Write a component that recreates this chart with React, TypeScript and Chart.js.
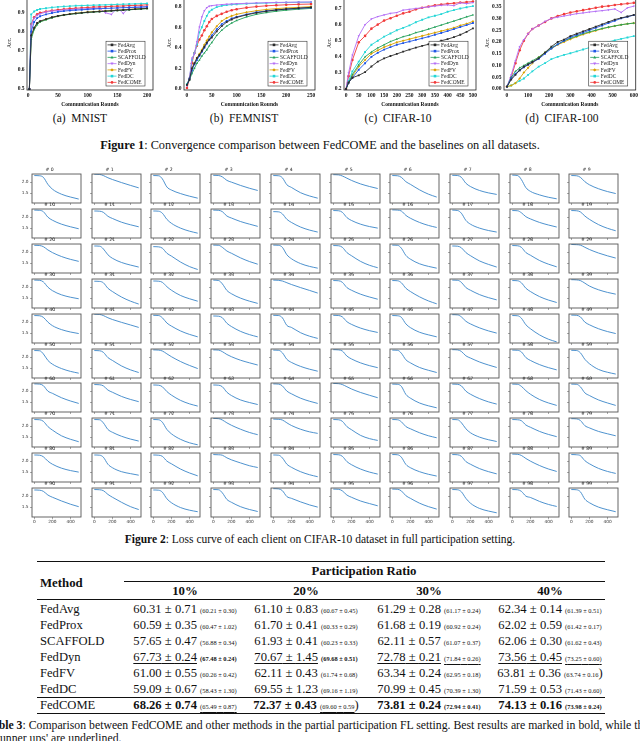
import React, { useEffect, useRef } from "react";
import { Chart, registerables } from "chart.js";
Chart.register(...registerables);

const SERIF = '"Liberation Serif", "Times New Roman", serif';
const SANS = '"DejaVu Sans", sans-serif';

// ---------------- Figure 1 data ----------------
const METHOD_NAMES = ["FedAvg", "FedProx", "SCAFFOLD", "FedDyn", "FedFV", "FedDC", "FedCOME"];
const METHOD_COLORS = ["#2b2b2b", "#1f55e6", "#22a05a", "#b36ef5", "#d8a200", "#22d6d6", "#f23a3a"];
const METHOD_MARKERS = ["rect", "rect", "triangle", "triangle", "rectRot", "rect", "circle"];
const METHOD_MARKER_ROT = [0, 0, 0, 180, 0, 0, 0];

const MNIST_ROUNDS = [2, 5, 10, 15, 20, 30, 40, 50, 60, 70, 80, 90, 100, 110, 120, 130, 140, 150, 160, 170, 180, 190, 200];
const MNIST_ACC = [
  [0.5, 0.78, 0.82, 0.845, 0.855, 0.865, 0.875, 0.882, 0.887, 0.891, 0.895, 0.898, 0.901, 0.903, 0.905, 0.907, 0.909, 0.911, 0.913, 0.915, 0.917, 0.919, 0.921],
  [0.5, 0.8, 0.85, 0.87, 0.88, 0.89, 0.897, 0.903, 0.907, 0.91, 0.912, 0.914, 0.916, 0.918, 0.92, 0.921, 0.922, 0.924, 0.925, 0.926, 0.927, 0.928, 0.929],
  [0.5, 0.76, 0.81, 0.835, 0.85, 0.862, 0.872, 0.88, 0.886, 0.89, 0.894, 0.897, 0.9, 0.902, 0.904, 0.906, 0.908, 0.91, 0.912, 0.914, 0.916, 0.918, 0.92],
  [0.5, 0.83, 0.87, 0.885, 0.893, 0.902, 0.907, 0.91, 0.913, 0.915, 0.917, 0.918, 0.92, 0.921, 0.922, 0.898, 0.89, 0.925, 0.895, 0.926, 0.927, 0.929, 0.931],
  [0.5, 0.77, 0.815, 0.84, 0.852, 0.864, 0.874, 0.881, 0.887, 0.892, 0.896, 0.899, 0.902, 0.904, 0.906, 0.908, 0.91, 0.912, 0.914, 0.916, 0.918, 0.92, 0.922],
  [0.5, 0.89, 0.905, 0.913, 0.918, 0.922, 0.926, 0.929, 0.931, 0.933, 0.935, 0.936, 0.937, 0.938, 0.939, 0.94, 0.941, 0.942, 0.943, 0.944, 0.945, 0.946, 0.947],
  [0.5, 0.84, 0.875, 0.89, 0.898, 0.905, 0.91, 0.914, 0.917, 0.92, 0.922, 0.924, 0.926, 0.928, 0.929, 0.93, 0.932, 0.933, 0.934, 0.936, 0.937, 0.938, 0.94],
];

const FEMNIST_ROUNDS = [0, 5, 10, 15, 20, 25, 30, 35, 40, 45, 50, 60, 70, 80, 90, 100, 120, 140, 160, 180, 200, 225, 250];
const FEMNIST_ACC = [
  [0.04, 0.09, 0.2, 0.25, 0.3, 0.33, 0.37, 0.41, 0.45, 0.48, 0.5, 0.56, 0.61, 0.65, 0.675, 0.695, 0.72, 0.74, 0.755, 0.767, 0.776, 0.785, 0.793],
  [0.04, 0.1, 0.18, 0.24, 0.28, 0.32, 0.36, 0.4, 0.44, 0.48, 0.52, 0.58, 0.63, 0.66, 0.685, 0.7, 0.725, 0.745, 0.758, 0.768, 0.776, 0.783, 0.79],
  [0.04, 0.09, 0.15, 0.2, 0.25, 0.28, 0.32, 0.35, 0.38, 0.42, 0.45, 0.52, 0.57, 0.61, 0.64, 0.665, 0.7, 0.725, 0.742, 0.755, 0.765, 0.775, 0.783],
  [0.03, 0.1, 0.3, 0.34, 0.46, 0.6, 0.7, 0.76, 0.79, 0.805, 0.81, 0.815, 0.82, 0.823, 0.826, 0.828, 0.832, 0.835, 0.838, 0.84, 0.842, 0.844, 0.845],
  [0.04, 0.1, 0.2, 0.25, 0.3, 0.34, 0.38, 0.43, 0.47, 0.51, 0.55, 0.61, 0.66, 0.69, 0.71, 0.725, 0.745, 0.76, 0.772, 0.78, 0.787, 0.793, 0.8],
  [0.05, 0.1, 0.28, 0.35, 0.43, 0.55, 0.6, 0.66, 0.71, 0.75, 0.77, 0.795, 0.808, 0.815, 0.82, 0.823, 0.828, 0.832, 0.835, 0.838, 0.84, 0.842, 0.843],
  [0.01, 0.1, 0.25, 0.35, 0.42, 0.48, 0.52, 0.57, 0.61, 0.65, 0.68, 0.71, 0.73, 0.75, 0.765, 0.775, 0.79, 0.8, 0.808, 0.813, 0.818, 0.822, 0.825],
];

const CIFAR10_ROUNDS = [0, 10, 25, 50, 75, 100, 125, 150, 175, 200, 225, 250, 275, 300, 325, 350, 375, 400, 425, 450, 475, 500];
const CIFAR10_ACC = [
  [0.2, 0.24, 0.27, 0.285, 0.305, 0.34, 0.37, 0.39, 0.405, 0.418, 0.432, 0.445, 0.457, 0.468, 0.478, 0.488, 0.5, 0.51, 0.522, 0.537, 0.555, 0.577],
  [0.2, 0.24, 0.27, 0.32, 0.36, 0.4, 0.425, 0.445, 0.46, 0.475, 0.485, 0.495, 0.505, 0.515, 0.525, 0.537, 0.548, 0.56, 0.572, 0.585, 0.597, 0.61],
  [0.2, 0.24, 0.29, 0.35, 0.4, 0.43, 0.455, 0.475, 0.495, 0.51, 0.525, 0.535, 0.55, 0.56, 0.572, 0.585, 0.597, 0.61, 0.622, 0.635, 0.648, 0.66],
  [0.2, 0.3, 0.41, 0.53, 0.6, 0.635, 0.65, 0.66, 0.67, 0.675, 0.69, 0.695, 0.7, 0.705, 0.71, 0.715, 0.72, 0.722, 0.718, 0.735, 0.73, 0.737],
  [0.2, 0.24, 0.28, 0.34, 0.38, 0.42, 0.44, 0.46, 0.475, 0.49, 0.5, 0.51, 0.52, 0.53, 0.54, 0.55, 0.56, 0.57, 0.58, 0.595, 0.605, 0.62],
  [0.2, 0.25, 0.31, 0.37, 0.43, 0.475, 0.5, 0.525, 0.545, 0.565, 0.58, 0.595, 0.615, 0.63, 0.645, 0.655, 0.665, 0.68, 0.69, 0.7, 0.708, 0.715],
  [0.2, 0.28, 0.38, 0.49, 0.53, 0.575, 0.6, 0.625, 0.64, 0.655, 0.67, 0.68, 0.695, 0.705, 0.712, 0.72, 0.725, 0.73, 0.733, 0.737, 0.74, 0.743],
];

const CIFAR100_ROUNDS = [0, 20, 40, 60, 80, 100, 120, 150, 180, 210, 240, 270, 300, 330, 360, 390, 420, 450, 480, 510, 540, 570, 600];
const CIFAR100_ACC = [
  [0.01, 0.04, 0.06, 0.08, 0.095, 0.105, 0.115, 0.13, 0.155, 0.18, 0.2, 0.21, 0.225, 0.235, 0.245, 0.255, 0.265, 0.275, 0.285, 0.295, 0.302, 0.308, 0.315],
  [0.01, 0.045, 0.065, 0.08, 0.092, 0.103, 0.113, 0.128, 0.15, 0.172, 0.19, 0.205, 0.22, 0.23, 0.24, 0.25, 0.26, 0.27, 0.28, 0.29, 0.3, 0.307, 0.314],
  [0.01, 0.05, 0.075, 0.09, 0.1, 0.11, 0.12, 0.135, 0.155, 0.175, 0.19, 0.205, 0.215, 0.225, 0.235, 0.243, 0.25, 0.257, 0.263, 0.268, 0.273, 0.277, 0.28],
  [0.01, 0.06, 0.12, 0.18, 0.21, 0.235, 0.255, 0.27, 0.287, 0.3, 0.305, 0.31, 0.315, 0.32, 0.323, 0.327, 0.33, 0.333, 0.336, 0.34, 0.325, 0.345, 0.352],
  [0.01, 0.015, 0.025, 0.045, 0.07, 0.09, 0.11, 0.135, 0.155, 0.172, 0.188, 0.2, 0.212, 0.222, 0.232, 0.24, 0.248, 0.256, 0.262, 0.268, 0.273, 0.277, 0.28],
  [0.01, 0.015, 0.025, 0.035, 0.045, 0.06, 0.075, 0.095, 0.11, 0.127, 0.137, 0.145, 0.152, 0.16, 0.168, 0.176, 0.184, 0.192, 0.2, 0.207, 0.213, 0.219, 0.225],
  [0.01, 0.05, 0.11, 0.165, 0.205, 0.235, 0.255, 0.27, 0.285, 0.3, 0.31, 0.318, 0.325, 0.33, 0.335, 0.34, 0.345, 0.35, 0.353, 0.357, 0.36, 0.363, 0.366],
];

const MNIST_X_TICKS = [0, 50, 100, 150, 200];
const MNIST_Y_TICKS = [0.5, 0.6, 0.7, 0.8, 0.9];
const FEMNIST_X_TICKS = [0, 50, 100, 150, 200, 250];
const FEMNIST_Y_TICKS = [0.0, 0.2, 0.4, 0.6, 0.8];
const CIFAR10_X_TICKS = [0, 50, 100, 150, 200, 250, 300, 350, 400, 450, 500];
const CIFAR10_Y_TICKS = [0.2, 0.3, 0.4, 0.5, 0.6, 0.7];
const CIFAR100_X_TICKS = [0, 100, 200, 300, 400, 500, 600];
const CIFAR100_Y_TICKS = [0.0, 0.05, 0.1, 0.15, 0.2, 0.25, 0.3, 0.35];
const PANEL_CAPTIONS = ["(a)  MNIST", "(b)  FEMNIST", "(c)  CIFAR-10", "(d)  CIFAR-100"];

// ---------------- Figure 2 data ----------------
const LOSS_ROUNDS = [0, 60, 100, 150, 200, 300, 400, 490];
const LOSS_Y_TICKS = [1.5, 2.0];
const LOSS_X_TICKS = [0, 200, 400];
const LOSS_CLIENTS_0 = [
  [2.3, 2.29, 2.22, 1.9, 1.68, 1.45, 1.32, 1.23],
  [2.36, 2.35, 2.3, 2.2, 2.12, 1.98, 1.85, 1.74],
  [2.3, 2.29, 2.15, 1.78, 1.64, 1.48, 1.36, 1.27],
  [2.31, 2.3, 2.24, 2.08, 2.0, 1.85, 1.72, 1.62],
  [2.3, 2.29, 2.2, 1.88, 1.76, 1.52, 1.37, 1.27],
  [2.34, 2.33, 2.28, 2.18, 2.08, 1.92, 1.8, 1.71],
  [2.3, 2.29, 2.22, 2.02, 1.9, 1.65, 1.45, 1.32],
  [2.31, 2.3, 2.22, 1.95, 1.8, 1.62, 1.51, 1.44],
  [2.32, 2.3, 2.12, 1.75, 1.58, 1.42, 1.31, 1.24],
  [2.3, 2.29, 2.22, 2.02, 1.88, 1.7, 1.57, 1.48],
];
const LOSS_CLIENTS_1 = [
  [2.32, 2.31, 2.25, 2.0, 1.86, 1.68, 1.56, 1.47],
  [2.28, 2.27, 2.22, 2.04, 1.94, 1.77, 1.65, 1.56],
  [2.28, 2.27, 2.18, 1.9, 1.72, 1.5, 1.36, 1.27],
  [2.32, 2.31, 2.25, 2.05, 1.96, 1.8, 1.68, 1.58],
  [2.25, 2.24, 2.15, 1.9, 1.76, 1.55, 1.41, 1.32],
  [2.3, 2.29, 2.22, 1.98, 1.85, 1.68, 1.57, 1.5],
  [2.33, 2.32, 2.28, 2.08, 1.95, 1.76, 1.62, 1.53],
  [2.32, 2.3, 2.18, 1.85, 1.68, 1.5, 1.39, 1.32],
  [2.3, 2.29, 2.2, 2.02, 1.92, 1.76, 1.64, 1.55],
  [2.3, 2.29, 2.24, 2.05, 1.9, 1.66, 1.49, 1.38],
];
const LOSS_CLIENTS_2 = [
  [2.31, 2.3, 2.25, 2.1, 1.98, 1.8, 1.67, 1.58],
  [2.28, 2.27, 2.15, 1.88, 1.72, 1.53, 1.41, 1.32],
  [2.25, 2.24, 2.18, 1.95, 1.82, 1.55, 1.34, 1.21],
  [2.32, 2.31, 2.22, 2.05, 1.95, 1.74, 1.57, 1.45],
  [2.32, 2.31, 2.22, 1.88, 1.7, 1.48, 1.35, 1.27],
  [2.3, 2.29, 2.22, 1.98, 1.84, 1.58, 1.4, 1.29],
  [2.32, 2.31, 2.18, 1.85, 1.68, 1.47, 1.35, 1.27],
  [2.28, 2.27, 2.2, 1.98, 1.84, 1.6, 1.44, 1.32],
  [2.3, 2.29, 2.22, 1.98, 1.86, 1.62, 1.45, 1.33],
  [2.35, 2.34, 2.32, 2.22, 2.12, 1.96, 1.83, 1.73],
];
const LOSS_CLIENTS_3 = [
  [2.32, 2.31, 2.24, 2.0, 1.84, 1.65, 1.54, 1.47],
  [2.27, 2.26, 2.2, 1.95, 1.8, 1.55, 1.36, 1.23],
  [2.28, 2.27, 2.22, 2.02, 1.86, 1.62, 1.47, 1.36],
  [2.32, 2.3, 2.15, 1.85, 1.7, 1.5, 1.36, 1.26],
  [2.32, 2.31, 2.28, 2.2, 2.12, 1.98, 1.85, 1.73],
  [2.3, 2.29, 2.22, 1.98, 1.86, 1.68, 1.55, 1.45],
  [2.3, 2.29, 2.2, 1.95, 1.8, 1.56, 1.37, 1.24],
  [2.32, 2.31, 2.22, 1.98, 1.86, 1.66, 1.52, 1.42],
  [2.3, 2.29, 2.2, 1.95, 1.8, 1.57, 1.41, 1.3],
  [2.34, 2.33, 2.3, 2.18, 2.05, 1.88, 1.76, 1.68],
];
const LOSS_CLIENTS_4 = [
  [2.3, 2.29, 2.22, 2.0, 1.84, 1.66, 1.55, 1.48],
  [2.36, 2.35, 2.3, 2.2, 2.12, 1.99, 1.87, 1.76],
  [2.31, 2.3, 2.2, 1.96, 1.82, 1.6, 1.44, 1.33],
  [2.28, 2.27, 2.2, 1.95, 1.8, 1.58, 1.43, 1.33],
  [2.31, 2.3, 2.2, 1.85, 1.76, 1.52, 1.36, 1.26],
  [2.31, 2.3, 2.24, 2.02, 1.9, 1.73, 1.61, 1.53],
  [2.3, 2.29, 2.22, 1.92, 1.75, 1.54, 1.42, 1.33],
  [2.34, 2.33, 2.24, 2.04, 1.92, 1.74, 1.6, 1.5],
  [2.3, 2.29, 2.18, 1.88, 1.7, 1.42, 1.22, 1.1],
  [2.32, 2.31, 2.24, 2.0, 1.88, 1.7, 1.57, 1.48],
];
const LOSS_CLIENTS_5 = [
  [2.3, 2.29, 2.15, 1.85, 1.68, 1.48, 1.35, 1.27],
  [2.3, 2.29, 2.22, 1.98, 1.85, 1.6, 1.42, 1.3],
  [2.33, 2.32, 2.28, 2.15, 2.02, 1.8, 1.62, 1.48],
  [2.33, 2.32, 2.25, 2.12, 2.02, 1.86, 1.74, 1.64],
  [2.32, 2.31, 2.2, 1.9, 1.76, 1.58, 1.45, 1.36],
  [2.34, 2.33, 2.28, 2.05, 1.92, 1.74, 1.61, 1.52],
  [2.32, 2.31, 2.18, 1.88, 1.74, 1.53, 1.4, 1.3],
  [2.34, 2.33, 2.26, 2.06, 1.96, 1.78, 1.64, 1.53],
  [2.32, 2.31, 2.24, 1.98, 1.85, 1.66, 1.52, 1.42],
  [2.31, 2.3, 2.2, 1.9, 1.7, 1.44, 1.31, 1.23],
];
const LOSS_CLIENTS_6 = [
  [2.33, 2.32, 2.25, 2.0, 1.9, 1.7, 1.55, 1.44],
  [2.3, 2.29, 2.24, 2.05, 1.95, 1.76, 1.62, 1.52],
  [2.28, 2.27, 2.2, 1.98, 1.82, 1.58, 1.42, 1.32],
  [2.28, 2.27, 2.2, 1.95, 1.8, 1.6, 1.48, 1.39],
  [2.33, 2.32, 2.24, 2.0, 1.88, 1.68, 1.54, 1.44],
  [2.35, 2.34, 2.3, 2.2, 2.1, 1.94, 1.81, 1.7],
  [2.32, 2.31, 2.22, 1.85, 1.68, 1.46, 1.33, 1.24],
  [2.32, 2.31, 2.24, 2.0, 1.86, 1.66, 1.51, 1.41],
  [2.32, 2.31, 2.22, 2.02, 1.86, 1.62, 1.46, 1.35],
  [2.32, 2.31, 2.2, 1.92, 1.8, 1.6, 1.46, 1.35],
];
const LOSS_CLIENTS_7 = [
  [2.3, 2.29, 2.22, 1.98, 1.82, 1.56, 1.4, 1.29],
  [2.3, 2.29, 2.15, 1.85, 1.72, 1.54, 1.41, 1.32],
  [2.3, 2.29, 2.18, 1.85, 1.65, 1.4, 1.24, 1.15],
  [2.35, 2.34, 2.28, 2.15, 2.04, 1.86, 1.71, 1.61],
  [2.32, 2.31, 2.28, 2.15, 2.03, 1.86, 1.74, 1.67],
  [2.3, 2.29, 2.22, 1.98, 1.84, 1.58, 1.43, 1.35],
  [2.3, 2.29, 2.2, 1.98, 1.88, 1.7, 1.56, 1.47],
  [2.3, 2.29, 2.16, 1.88, 1.7, 1.5, 1.38, 1.3],
  [2.3, 2.29, 2.25, 2.05, 1.95, 1.76, 1.62, 1.52],
  [2.34, 2.33, 2.26, 2.02, 1.92, 1.76, 1.65, 1.56],
];
const LOSS_CLIENTS_8 = [
  [2.28, 2.27, 2.2, 2.0, 1.86, 1.68, 1.57, 1.5],
  [2.28, 2.27, 2.18, 1.86, 1.7, 1.52, 1.43, 1.36],
  [2.28, 2.27, 2.22, 2.0, 1.88, 1.64, 1.46, 1.33],
  [2.3, 2.29, 2.27, 2.15, 2.06, 1.92, 1.79, 1.71],
  [2.28, 2.27, 2.15, 1.86, 1.72, 1.52, 1.38, 1.29],
  [2.3, 2.29, 2.22, 1.98, 1.84, 1.64, 1.5, 1.41],
  [2.3, 2.29, 2.18, 1.85, 1.7, 1.52, 1.4, 1.32],
  [2.3, 2.29, 2.22, 1.98, 1.86, 1.66, 1.52, 1.42],
  [2.32, 2.31, 2.26, 2.12, 2.0, 1.8, 1.64, 1.53],
  [2.3, 2.29, 2.25, 2.02, 1.88, 1.67, 1.53, 1.44],
];
const LOSS_CLIENTS_9 = [
  [2.28, 2.27, 2.22, 2.05, 1.95, 1.78, 1.63, 1.52],
  [2.3, 2.29, 2.25, 2.08, 1.95, 1.72, 1.52, 1.39],
  [2.28, 2.27, 2.18, 1.88, 1.7, 1.48, 1.36, 1.29],
  [2.3, 2.29, 2.15, 1.85, 1.72, 1.52, 1.39, 1.3],
  [2.34, 2.33, 2.25, 1.98, 1.9, 1.74, 1.6, 1.5],
  [2.32, 2.31, 2.24, 2.05, 1.95, 1.78, 1.66, 1.56],
  [2.32, 2.31, 2.24, 2.02, 1.9, 1.68, 1.52, 1.41],
  [2.3, 2.29, 2.2, 1.9, 1.68, 1.44, 1.32, 1.24],
  [2.3, 2.29, 2.22, 2.0, 1.94, 1.76, 1.62, 1.53],
  [2.3, 2.29, 2.2, 1.86, 1.7, 1.5, 1.38, 1.29],
];
const CLIENT_LOSS = [
  ...LOSS_CLIENTS_0, ...LOSS_CLIENTS_1, ...LOSS_CLIENTS_2, ...LOSS_CLIENTS_3, ...LOSS_CLIENTS_4,
  ...LOSS_CLIENTS_5, ...LOSS_CLIENTS_6, ...LOSS_CLIENTS_7, ...LOSS_CLIENTS_8, ...LOSS_CLIENTS_9,
];

// ---------------- Table 3 data ----------------
const TABLE_METHODS = ["FedAvg", "FedProx", "SCAFFOLD", "FedDyn", "FedFV", "FedDC", "FedCOME"];
const RATIO_LABELS = ["10%", "20%", "30%", "40%"];
const MEAN_ACC = [
  ["60.31", "61.10", "61.29", "62.34"],
  ["60.59", "61.70", "61.68", "62.02"],
  ["57.65", "61.93", "62.11", "62.06"],
  ["67.73", "70.67", "72.78", "73.56"],
  ["61.00", "62.11", "63.34", "63.81"],
  ["59.09", "69.55", "70.99", "71.59"],
  ["68.26", "72.37", "73.81", "74.13"],
];
const STD_ACC = [
  ["0.71", "0.83", "0.28", "0.14"],
  ["0.35", "0.41", "0.19", "0.59"],
  ["0.47", "0.41", "0.57", "0.30"],
  ["0.24", "1.45", "0.21", "0.45"],
  ["0.55", "0.43", "0.24", "0.36"],
  ["0.67", "1.23", "0.45", "0.53"],
  ["0.74", "0.43", "0.24", "0.16"],
];
const SUB_MEAN = [
  ["60.21", "60.67", "61.17", "61.39"],
  ["60.47", "60.33", "60.92", "61.42"],
  ["56.88", "60.23", "61.07", "61.62"],
  ["67.48", "69.68", "71.84", "73.25"],
  ["60.26", "61.74", "62.95", "63.74"],
  ["58.43", "69.16", "70.39", "71.43"],
  ["65.49", "69.60", "72.94", "73.98"],
];
const SUB_STD = [
  ["0.30", "0.45", "0.24", "0.51"],
  ["1.02", "0.29", "0.24", "0.17"],
  ["0.34", "0.33", "0.37", "0.43"],
  ["0.24", "0.51", "0.26", "0.60"],
  ["0.42", "0.68", "0.18", "0.16"],
  ["1.30", "1.19", "1.30", "0.60"],
  ["0.87", "0.59", "0.41", "0.24"],
];
const MAIN_MARK = ["", "", "", "u", "", "", "b"];
const SUB_MARK = [
  ["", "", "", ""], ["", "", "", ""], ["", "", "", ""],
  ["b", "b", "u", "u"],
  ["", "", "", ""], ["", "", "", ""],
  ["u", "u", "b", "b"],
];
const BIG_CLOSE = ["4-3", "6-1"];

// ---------------- plugins ----------------
function drawMarker(ctx: any, style: string, rot: number, x: number, y: number, r: number, color: string) {
  ctx.save();
  ctx.translate(x, y);
  ctx.rotate((rot * Math.PI) / 180);
  ctx.fillStyle = color;
  ctx.beginPath();
  if (style === "circle") ctx.arc(0, 0, r, 0, Math.PI * 2);
  else if (style === "rect") ctx.rect(-r, -r, 2 * r, 2 * r);
  else if (style === "rectRot") {
    ctx.moveTo(0, -r * 1.3); ctx.lineTo(r * 1.3, 0); ctx.lineTo(0, r * 1.3); ctx.lineTo(-r * 1.3, 0); ctx.closePath();
  } else {
    ctx.moveTo(0, -r * 1.25); ctx.lineTo(r * 1.15, r * 0.85); ctx.lineTo(-r * 1.15, r * 0.85); ctx.closePath();
  }
  ctx.fill();
  ctx.restore();
}

const boxBorderPlugin = {
  id: "boxBorder",
  afterDatasetsDraw(chart: any, _a: any, opts: any) {
    const { ctx, chartArea: a } = chart;
    ctx.save();
    ctx.strokeStyle = opts.color || "#333";
    ctx.lineWidth = opts.width || 1;
    ctx.strokeRect(a.left, a.top, a.right - a.left, a.bottom - a.top);
    ctx.restore();
  },
};

const insideLegendPlugin = {
  id: "insideLegend",
  afterDraw(chart: any) {
    const { ctx, chartArea: a } = chart;
    const ds = chart.data.datasets;
    const rowH = 6.25;
    const w = 39;
    const h = ds.length * rowH + 1;
    const x0 = a.right - 8 - w;
    const y0 = a.bottom - 4 - h;
    ctx.save();
    ctx.fillStyle = "#fff";
    ctx.fillRect(x0, y0, w, h);
    ctx.strokeStyle = "#333";
    ctx.lineWidth = 0.6;
    ctx.strokeRect(x0, y0, w, h);
    ctx.font = `5.4px ${SERIF}`;
    ctx.textBaseline = "middle";
    ctx.textAlign = "left";
    ds.forEach((d: any, i: number) => {
      const y = y0 + 0.5 + rowH * (i + 0.5);
      ctx.strokeStyle = d.borderColor;
      ctx.lineWidth = 0.8;
      ctx.beginPath();
      ctx.moveTo(x0 + 1.5, y);
      ctx.lineTo(x0 + 10.5, y);
      ctx.stroke();
      drawMarker(ctx, d.pointStyle, d.pointRotation || 0, x0 + 6, y, 1.3, d.borderColor);
      ctx.fillStyle = "#222";
      ctx.fillText(d.label, x0 + 12, y + 0.3);
    });
    ctx.restore();
  },
};

// ---------------- Figure 1 panels ----------------
type Panel = {
  rounds: number[]; acc: number[][]; xTicks: number[]; yTicks: number[];
  xMin: number; xMax: number; yMin: number; yMax: number; decimals: number;
  left: number; yAxisW: number; padRight: number; yTitlePad: number; caption: string; capX: number;
};

const PANELS: Panel[] = [
  { rounds: MNIST_ROUNDS, acc: MNIST_ACC, xTicks: MNIST_X_TICKS, yTicks: MNIST_Y_TICKS, xMin: -2, xMax: 210, yMin: 0.495, yMax: 0.987, decimals: 1, left: 0, yAxisW: 27, padRight: 7, yTitlePad: 6.7, caption: PANEL_CAPTIONS[0], capX: 80 },
  { rounds: FEMNIST_ROUNDS, acc: FEMNIST_ACC, xTicks: FEMNIST_X_TICKS, yTicks: FEMNIST_Y_TICKS, xMin: -6, xMax: 258, yMin: -0.0095, yMax: 0.905, decimals: 1, left: 160, yAxisW: 24, padRight: 5, yTitlePad: 6.7, caption: PANEL_CAPTIONS[1], capX: 244 },
  { rounds: CIFAR10_ROUNDS, acc: CIFAR10_ACC, xTicks: CIFAR10_X_TICKS, yTicks: CIFAR10_Y_TICKS, xMin: -8, xMax: 512, yMin: 0.194, yMax: 0.779, decimals: 1, left: 320, yAxisW: 24, padRight: 4, yTitlePad: 6.7, caption: PANEL_CAPTIONS[2], capX: 398 },
  { rounds: CIFAR100_ROUNDS, acc: CIFAR100_ACC, xTicks: CIFAR100_X_TICKS, yTicks: CIFAR100_Y_TICKS, xMin: -14, xMax: 609, yMin: -0.004, yMax: 0.396, decimals: 2, left: 480, yAxisW: 24, padRight: 4, yTitlePad: 4.7, caption: PANEL_CAPTIONS[3], capX: 562 },
];

const TOP_CANVAS_TOP = -10;
const TOP_CANVAS_H = 119;

function AccuracyChart({ panel }: { panel: Panel }) {
  const ref = useRef<HTMLCanvasElement>(null);
  useEffect(() => {
    const chart = new Chart(ref.current as HTMLCanvasElement, {
      type: "line",
      data: {
        datasets: METHOD_NAMES.map((name, i) => ({
          label: name,
          data: panel.rounds.map((x, j) => ({ x, y: panel.acc[i][j] })),
          borderColor: METHOD_COLORS[i],
          backgroundColor: METHOD_COLORS[i],
          borderWidth: 0.9,
          pointRadius: 1.3,
          pointBorderWidth: 0,
          pointStyle: METHOD_MARKERS[i] as any,
          pointRotation: METHOD_MARKER_ROT[i],
          tension: 0,
        })),
      },
      options: {
        animation: false,
        responsive: false,
        maintainAspectRatio: false,
        events: [],
        layout: { padding: { left: 0, right: panel.padRight, top: 4, bottom: 0 } },
        plugins: {
          legend: { display: false },
          tooltip: { enabled: false },
          boxBorder: { color: "#222", width: 0.8 },
        } as any,
        scales: {
          x: {
            type: "linear",
            min: panel.xMin,
            max: panel.xMax,
            afterBuildTicks: (s: any) => { s.ticks = panel.xTicks.map((v) => ({ value: v })); },
            afterFit: (s: any) => { s.height = 19; },
            grid: { display: false, drawTicks: false, tickLength: 0 },
            border: { display: false },
            ticks: { font: { family: SERIF, size: 5.5, weight: "bold" }, color: "#111", padding: 2, maxRotation: 0, autoSkip: false, callback: (v: any) => String(v) },
            title: { display: true, text: "Communication Rounds", font: { family: SERIF, size: 5.5, weight: "bold", lineHeight: 1.2 }, color: "#111", padding: { top: 0, bottom: 0.7 } },
          },
          y: {
            type: "linear",
            min: panel.yMin,
            max: panel.yMax,
            afterBuildTicks: (s: any) => { s.ticks = panel.yTicks.map((v) => ({ value: v })); },
            afterFit: (s: any) => { s.width = panel.yAxisW; },
            grid: { display: false, drawTicks: false, tickLength: 0 },
            border: { display: false },
            ticks: { font: { family: SERIF, size: 5.5, weight: "bold" }, color: "#111", padding: 2.5, autoSkip: false, callback: (v: any) => Number(v).toFixed(panel.decimals) },
            title: { display: true, text: "Acc.", font: { family: SERIF, size: 5.5, lineHeight: 1.2 }, color: "#111", padding: { top: panel.yTitlePad, bottom: 0 } },
          },
        },
      },
      plugins: [boxBorderPlugin, insideLegendPlugin],
    } as any);
    return () => chart.destroy();
  }, []);
  return (
    <canvas
      ref={ref}
      width={160}
      height={TOP_CANVAS_H}
      style={{ position: "absolute", left: panel.left, top: TOP_CANVAS_TOP, width: 160, height: TOP_CANVAS_H }}
    />
  );
}

// ---------------- Figure 2 small multiples ----------------
const GRID_LEFT = 32;
const GRID_COL_STEP = 59.7;
const GRID_TOP = 174;
const GRID_ROW_STEP = 34.9;
const BOX_W = 49;
const BOX_H = 29;
const SM_Y_AXIS_W = 14;
const SM_X_AXIS_H = 10;
const SM_TITLE_H = 8;
const SM_PAD_R = 2;

function LossChart({ idx }: { idx: number }) {
  const ref = useRef<HTMLCanvasElement>(null);
  const row = Math.floor(idx / 10);
  const col = idx % 10;
  const boxL = GRID_LEFT + GRID_COL_STEP * col;
  const boxT = GRID_TOP + GRID_ROW_STEP * row;
  const W = SM_Y_AXIS_W + BOX_W + SM_PAD_R;
  const H = SM_TITLE_H + BOX_H + SM_X_AXIS_H;
  useEffect(() => {
    const chart = new Chart(ref.current as HTMLCanvasElement, {
      type: "line",
      data: {
        datasets: [
          {
            label: `# ${idx}`,
            data: LOSS_ROUNDS.map((x, j) => ({ x, y: CLIENT_LOSS[idx][j] })),
            borderColor: "#3a86c8",
            borderWidth: 0.9,
            pointRadius: 0,
            cubicInterpolationMode: "monotone",
          },
        ],
      },
      options: {
        animation: false,
        responsive: false,
        maintainAspectRatio: false,
        events: [],
        layout: { padding: { left: 0, right: SM_PAD_R, top: 0, bottom: 0 } },
        plugins: {
          legend: { display: false },
          tooltip: { enabled: false },
          title: {
            display: true,
            text: `# ${idx}`,
            color: "#222",
            font: { family: SANS, size: 4.6, weight: "normal", lineHeight: 1.09 },
            padding: { top: 1, bottom: 2 },
          },
          boxBorder: { color: "#555", width: 0.9 },
        } as any,
        scales: {
          x: {
            type: "linear",
            min: -25,
            max: 515,
            afterBuildTicks: (s: any) => { s.ticks = LOSS_X_TICKS.map((v) => ({ value: v })); },
            afterFit: (s: any) => { s.height = SM_X_AXIS_H; },
            grid: { display: true, drawOnChartArea: false, drawTicks: true, tickLength: 2, color: "#555", lineWidth: 0.5 },
            border: { display: false },
            ticks: { display: row === 9, font: { family: SANS, size: 4.3 }, color: "#333", padding: 0.5, maxRotation: 0, autoSkip: false, callback: (v: any) => String(v) },
          },
          y: {
            type: "linear",
            min: 1.05,
            max: 2.37,
            afterBuildTicks: (s: any) => { s.ticks = LOSS_Y_TICKS.map((v) => ({ value: v })); },
            afterFit: (s: any) => { s.width = SM_Y_AXIS_W; },
            grid: { display: true, drawOnChartArea: false, drawTicks: true, tickLength: 2, color: "#555", lineWidth: 0.5 },
            border: { display: false },
            ticks: { display: col === 0, font: { family: SANS, size: 4.3 }, color: "#333", padding: 1.5, autoSkip: false, callback: (v: any) => Number(v).toFixed(1) },
          },
        },
      },
      plugins: [boxBorderPlugin],
    } as any);
    return () => chart.destroy();
  }, []);
  return (
    <canvas
      ref={ref}
      width={W}
      height={H}
      style={{ position: "absolute", left: boxL - SM_Y_AXIS_W, top: boxT - SM_TITLE_H, width: W, height: H }}
    />
  );
}

// ---------------- Table ----------------
const T_LEFT = 37;
const T_RIGHT = 605;
const T_COL_LEFTS = [125, 246, 369, 490];
const T_COL_W = 120;
const T_ROW_Y = [608.5, 624.5, 640.5, 656.5, 672.5, 688.5, 705];

function Cell({ r, c }: { r: number; c: number }) {
  const mm = MAIN_MARK[r];
  const sm = SUB_MARK[r][c];
  const big = BIG_CLOSE.includes(`${r}-${c}`);
  const mainStyle: any = {
    fontWeight: mm === "b" ? "bold" : "normal",
    textDecoration: mm === "u" ? "underline" : "none",
    textUnderlineOffset: 2,
    textDecorationThickness: 0.6,
  };
  const subStyle: any = {
    fontSize: 6.4,
    fontWeight: sm === "b" ? "bold" : "normal",
    textDecoration: sm === "u" ? "underline" : "none",
    textUnderlineOffset: 3,
    textDecorationThickness: 0.6,
  };
  return (
    <div
      style={{
        position: "absolute",
        left: T_COL_LEFTS[c],
        width: T_COL_W,
        top: T_ROW_Y[r] - 8,
        height: 16,
        lineHeight: "16px",
        textAlign: "center",
        fontSize: 12.6,
        whiteSpace: "nowrap",
      }}
    >
      <span style={mainStyle}>{MEAN_ACC[r][c]} ± {STD_ACC[r][c]}</span>{" "}
      <span style={subStyle}>({SUB_MEAN[r][c]} ± {SUB_STD[r][c]}{big ? "" : ")"}</span>
      {big ? <span style={{ fontSize: 12.6 }}>)</span> : null}
    </div>
  );
}

function Rule({ top, left, right, h }: { top: number; left: number; right: number; h: number }) {
  return <div style={{ position: "absolute", top, left, width: right - left, height: h, background: "#111" }} />;
}

function ResultsTable() {
  return (
    <div style={{ fontFamily: SERIF }}>
      <Rule top={560.5} left={T_LEFT} right={T_RIGHT} h={1.2} />
      <div style={{ position: "absolute", left: 123, width: T_RIGHT - 123, top: 563, height: 16, lineHeight: "16px", textAlign: "center", fontWeight: "bold", fontSize: 12.8 }}>
        Participation Ratio
      </div>
      <Rule top={580.5} left={124} right={T_RIGHT} h={0.6} />
      <div style={{ position: "absolute", left: 40, top: 575, height: 16, lineHeight: "16px", fontWeight: "bold", fontSize: 12.8 }}>Method</div>
      {RATIO_LABELS.map((lab, c) => (
        <div key={lab} style={{ position: "absolute", left: T_COL_LEFTS[c], width: T_COL_W, top: 583, height: 16, lineHeight: "16px", textAlign: "center", fontWeight: "bold", fontSize: 12.8 }}>
          {lab}
        </div>
      ))}
      <Rule top={599.3} left={T_LEFT} right={T_RIGHT} h={0.8} />
      {TABLE_METHODS.map((m, r) => (
        <React.Fragment key={m}>
          <div style={{ position: "absolute", left: 40, top: T_ROW_Y[r] - 8, height: 16, lineHeight: "16px", fontSize: 12.6 }}>{m}</div>
          {RATIO_LABELS.map((_, c) => (
            <Cell key={c} r={r} c={c} />
          ))}
        </React.Fragment>
      ))}
      <Rule top={696.7} left={T_LEFT} right={T_RIGHT} h={0.6} />
      <Rule top={713.3} left={T_LEFT} right={T_RIGHT} h={1.2} />
    </div>
  );
}

// ---------------- App ----------------
export default function App() {
  const clients = Array.from({ length: CLIENT_LOSS.length }, (_, i) => i);
  return (
    <div
      style={{
        position: "absolute",
        left: 0,
        top: 0,
        width: 640,
        height: 741,
        overflow: "hidden",
        background: "#fff",
        fontFamily: SERIF,
        color: "#111",
      }}
    >
      {PANELS.map((p, i) => (
        <AccuracyChart key={i} panel={p} />
      ))}
      {PANELS.map((p, i) => (
        <div key={`cap${i}`} style={{ position: "absolute", left: p.capX - 60, width: 120, top: 111, textAlign: "center", fontSize: 11.5, lineHeight: "14px", whiteSpace: "pre" }}>
          {p.caption}
        </div>
      ))}
      <div style={{ position: "absolute", left: 0, width: 640, top: 138, textAlign: "center", fontSize: 12.3, lineHeight: "14px", whiteSpace: "nowrap" }}>
        <b>Figure 1</b>: Convergence comparison between FedCOME and the baselines on all datasets.
      </div>

      {clients.map((i) => (
        <LossChart key={i} idx={i} />
      ))}
      <div style={{ position: "absolute", left: 0, width: 640, top: 532, textAlign: "center", fontSize: 11.5, lineHeight: "14px", whiteSpace: "nowrap" }}>
        <b>Figure 2</b>: Loss curve of each client on CIFAR-10 dataset in full participation setting.
      </div>

      <ResultsTable />

      <div style={{ position: "absolute", left: -14, top: 719, fontSize: 11.75, lineHeight: "14px", whiteSpace: "nowrap" }}>
        <b>Table 3</b>: Comparison between FedCOME and other methods in the partial participation FL setting. Best results are marked in bold, while the
      </div>
      <div style={{ position: "absolute", left: -4, top: 732, fontSize: 11.75, lineHeight: "14px", whiteSpace: "nowrap" }}>
        runner ups' are underlined.
      </div>
    </div>
  );
}
